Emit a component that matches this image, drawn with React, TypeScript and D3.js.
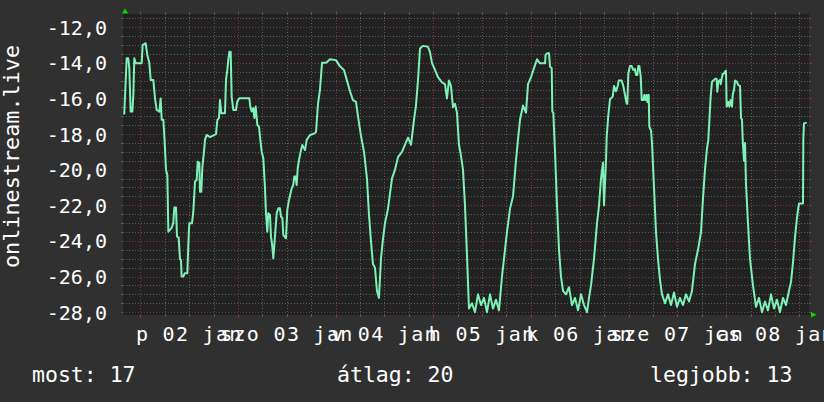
import React from "react";
import * as d3 from "d3";

// hours after 2015-01-01 20:00 (UTC) and the plotted value
const hours = [
  0.0, 0.6, 1.0, 1.25, 1.58, 2.0, 2.24, 2.48, 2.82, 4.29, 4.53, 5.27, 5.68, 6.17, 6.5, 7.16, 7.57, 7.98, 8.63, 8.96,
  9.21, 9.62, 9.94, 10.27, 10.6, 10.85, 11.67, 12.07, 12.32, 12.73, 12.98, 13.39, 13.71, 13.96, 14.12, 14.53, 14.86,
  15.52, 15.76, 16.0, 16.67, 16.99, 17.4, 17.82, 18.07, 18.47, 18.63, 18.96, 19.2, 19.62, 19.86, 20.27, 21.09, 22.57,
  22.9, 23.3, 23.55, 23.87, 24.78, 25.03, 25.35, 25.6, 25.84, 26.18, 26.42, 26.82, 27.48, 27.8, 28.3, 30.76, 31.0,
  31.34, 31.75, 32.0, 32.33, 32.73, 33.15, 33.38, 33.8, 34.2, 34.6, 34.86, 35.18, 35.43, 35.84, 36.09, 36.42, 36.66,
  37.0, 37.49, 37.9, 38.3, 38.55, 38.88, 39.12, 39.78, 40.1, 40.52, 41.18, 41.57, 41.82, 42.16, 42.4, 42.66, 42.98,
  43.39, 43.79, 44.45, 44.87, 45.68,
  46.42, 47.16, 47.65, 48.14, 48.64, 49.62, 50.6, 52.07, 53.05, 54.04, 54.78, 55.51, 56.25, 56.99, 57.48, 58.22,
  58.96, 59.69, 60.18, 60.67, 61.16, 61.66, 62.15, 62.64, 63.14, 63.63, 64.12, 64.86, 65.84, 66.58, 67.32, 68.3,
  69.04, 69.78, 70.52, 71.25, 71.74, 72.23, 72.73, 73.46, 74.69, 75.18, 75.67, 76.41, 77.15, 78.13, 78.87, 79.36,
  79.85, 80.34, 80.84, 81.33, 81.82, 82.31, 82.8, 83.3, 83.79, 84.28, 84.77, 85.51, 86.25, 86.99, 87.72, 88.46,
  89.2, 89.94, 90.68, 91.41, 92.15, 92.89, 93.63, 94.12, 94.86, 95.6, 96.33, 96.83, 97.32, 98.06, 98.8, 99.29,
  100.03, 100.76, 101.5, 102.24,
  103.48, 103.6, 103.97, 104.46, 104.7, 105.12, 105.27, 105.51, 105.93, 106.42, 106.91, 107.4, 107.9, 108.63,
  109.37, 110.11, 110.85, 111.59, 112.32, 113.06, 113.8, 114.29, 114.78, 115.52, 116.26, 116.75, 117.24, 117.73,
  117.98, 118.47, 118.64, 119.04, 119.45, 120.12, 120.44, 120.93, 121.35, 121.59, 122.32, 122.72, 123.13, 123.56,
  123.7, 123.96, 124.37, 124.78, 125.17, 125.59, 125.84, 126.17, 126.41, 126.66, 127.0, 127.25, 127.64, 127.89,
  128.13, 128.48, 128.62, 128.97, 129.12, 129.54, 129.78,
  130.27, 130.76, 131.25, 131.75, 132.24, 132.98, 133.71, 134.45, 135.19, 135.93, 136.66, 137.4, 138.14, 138.88,
  139.61, 140.35, 141.09, 141.83, 142.32, 142.81, 143.3,
  143.62, 144.2, 144.53, 144.85, 145.27, 145.68, 145.83, 146.08, 146.5, 146.67, 146.91, 147.16, 147.48, 147.73,
  147.97, 148.14, 148.54, 148.79, 149.13, 149.45, 149.63, 149.95, 150.2, 150.61, 151.0, 151.42, 151.67, 151.91,
  152.08, 152.4, 152.65, 152.89, 153.38, 153.87, 154.61, 155.35, 156.09, 156.83, 157.56, 158.3, 159.04, 159.78,
  160.51, 161.25, 161.99, 162.73, 163.47, 163.96, 164.45, 164.94, 165.43, 165.92, 166.91, 166.98, 167.15, 167.82,
];

const values = [
  -16.9, -13.75, -13.75, -14.3, -16.74, -16.74, -15.8, -13.75, -14.03, -14.03, -13.0, -12.9, -13.56, -14.0, -14.96,
  -14.96, -16.0, -16.65, -16.74, -16.0, -17.2, -17.2, -18.43, -20.0, -20.3, -23.48, -23.27, -22.99, -22.13, -22.13,
  -23.76, -23.8, -25.03, -25.07, -26.0, -26.0, -25.82, -25.82, -24.23, -23.01, -23.01, -22.36, -20.67, -20.58,
  -19.55, -19.62, -21.24, -21.24, -19.9, -18.99, -18.33, -18.05, -18.17, -18.0, -17.21, -17.1, -16.09, -16.83,
  -16.83, -14.96, -14.4, -13.84, -13.38, -13.38, -15.9, -16.65, -16.65, -16.18, -15.99, -15.99, -16.46, -16.74,
  -16.54, -17.1, -16.46, -17.49, -17.59, -18.15, -18.99, -19.36, -20.96, -22.45, -23.48, -22.45, -22.54, -23.76,
  -24.32, -24.98, -23.95, -22.45, -22.17, -22.17, -22.64, -22.71, -23.67, -23.85, -22.26, -21.7, -21.05, -20.86,
  -20.39, -20.39, -20.86, -19.92, -19.46, -18.99, -18.61, -18.9, -18.33, -18.05,
  -18.0, -17.9, -16.3, -15.5, -14.0, -14.0, -13.8, -13.85, -14.2, -14.4, -15.0, -15.6, -16.1, -16.2, -17.0, -18.1,
  -19.0, -20.5, -22.5, -24.0, -25.3, -25.5, -26.8, -27.2, -25.0, -23.9, -23.0, -22.2, -20.5, -20.0, -19.3, -19.0,
  -18.6, -18.2, -18.6, -17.2, -16.4, -15.0, -13.2, -13.05, -13.1, -13.4, -14.0, -14.4, -14.8, -15.1, -15.2, -16.0,
  -15.0, -15.3, -16.5, -16.3, -16.8, -18.6, -19.2, -20.0, -22.0, -24.8, -27.8, -27.5, -28.0, -27.0, -27.6, -27.2,
  -28.0, -27.0, -27.8, -27.3, -27.9, -26.0, -24.5, -23.5, -22.2, -21.5, -19.5, -18.3, -17.2, -16.4, -16.8, -15.2,
  -14.8, -14.3, -13.8, -14.03,
  -14.03, -13.56, -13.47, -13.47, -14.22, -14.3, -16.74, -16.8, -19.0, -22.0, -24.5, -26.0, -26.8, -27.0,
  -26.6, -27.6, -27.2, -27.9, -27.0, -27.6, -28.0, -27.2, -26.5, -25.0, -23.0, -22.0, -20.5, -19.6,
  -22.0, -19.5, -18.15, -16.93, -16.05, -15.9, -15.3, -15.6, -15.3, -15.0, -15.0, -15.3, -15.8, -16.3,
  -16.3, -14.59, -14.18, -14.18, -14.4, -14.35, -14.68, -14.68, -14.18, -14.18, -14.75, -16.09, -16.09, -15.8,
  -16.09, -15.8, -16.2, -15.8, -17.59, -17.8, -18.5,
  -21.0, -23.5, -25.0, -26.2, -27.0, -27.5, -27.0, -27.6, -26.9, -27.7, -27.2, -27.6, -27.0, -27.4,
  -26.8, -25.3, -24.5, -23.5, -21.6, -20.0, -18.8,
  -18.33, -15.9, -15.06, -15.0, -14.9, -14.9, -15.62, -15.06, -14.96, -15.2, -14.9, -14.63, -14.6, -14.5,
  -14.44, -16.46, -16.2, -16.46, -16.09, -16.46, -15.8, -15.5, -15.0, -15.06, -15.25, -15.3, -17.1, -17.2,
  -18.33, -19.5, -18.5, -20.8, -23.0, -25.0, -26.5, -27.7, -27.2, -28.0, -27.4, -27.9, -27.0, -27.8,
  -27.3, -28.0, -27.2, -27.6, -26.8, -26.3, -25.2, -23.8, -22.7, -21.9, -21.9, -18.33, -17.4, -17.36,
];

const yTicks = [-28, -26, -24, -22, -20, -18, -16, -14, -12];
const dayLabels = ["p 02 jan", "szo 03 jan", "v 04 jan", "h 05 jan", "k 06 jan", "sze 07 jan", "cs 08 jan"];
const legendItems = ["most: 17", "átlag: 20", "legjobb: 13"];
const unitLabel = "onlinestream.live";

const W = 824;
const H = 402;
const PL = 123;
const PR = 809;
const PT = 14;
const PB = 315;
const FONT = "'DejaVu Sans Mono', monospace";
const MINOR = "#5c5c5c";
const MAJOR = "#803838";

export default function App() {
  const dataStart = Date.UTC(2015, 0, 1, 20, 0);
  const x = d3
    .scaleUtc()
    .domain([new Date(Date.UTC(2015, 0, 1, 19, 42)), new Date(Date.UTC(2015, 0, 8, 20, 23))])
    .range([PL, PR]);
  const y = d3.scaleLinear().domain([-28.16, -11.26]).range([PB, PT]);

  const pts = hours.map((h, i) => [new Date(dataStart + h * 3600e3), values[i]] as [Date, number]);
  const line = d3
    .line<[Date, number]>()
    .x((d) => x(d[0]))
    .y((d) => y(d[1]));

  const [d0, d1] = x.domain();
  const sixHours = d3.utcHour.every(6)!.range(d0, d1);
  const minorV = sixHours.filter((d) => d.getUTCHours() !== 0);
  const majorV = d3.utcDay.range(d0, d1);
  const noons = majorV.map((d) => new Date(d.getTime() + 12 * 3600e3));

  const minorH = d3.range(-28, -11.4, 0.5).filter((v) => Math.abs(v % 2) > 0.01);

  const cx = (v: number) => Math.round(v) + 0.5;

  return (
    <svg
      width={W}
      height={H}
      style={{ position: "absolute", left: 0, top: 0, display: "block" }}
      xmlns="http://www.w3.org/2000/svg"
    >
      <rect x={0} y={0} width={W} height={H} fill="#303030" />
      <rect x={PL} y={PT} width={PR - PL} height={PB - PT} fill="#212121" />

      {minorH.map((v) => (
        <g key={"mh" + v}>
          <line x1={PL} x2={PR} y1={cx(y(v))} y2={cx(y(v))} stroke={MINOR} strokeDasharray="1,2" />
          <line x1={PL - 2} x2={PL} y1={cx(y(v))} y2={cx(y(v))} stroke={MINOR} />
          <line x1={PR} x2={PR + 2} y1={cx(y(v))} y2={cx(y(v))} stroke={MINOR} />
        </g>
      ))}
      {minorV.map((d) => (
        <g key={"mv" + d.getTime()}>
          <line x1={cx(x(d))} x2={cx(x(d))} y1={PT} y2={PB} stroke={MINOR} strokeDasharray="1,2" />
          <line x1={cx(x(d))} x2={cx(x(d))} y1={PT - 2} y2={PT} stroke={MINOR} />
          <line x1={cx(x(d))} x2={cx(x(d))} y1={PB} y2={PB + 2} stroke={MINOR} />
        </g>
      ))}
      {yTicks.map((v) => (
        <g key={"Mh" + v}>
          <line x1={PL} x2={PR} y1={cx(y(v))} y2={cx(y(v))} stroke={MAJOR} strokeDasharray="1,2" />
          <line x1={PL - 2} x2={PL} y1={cx(y(v))} y2={cx(y(v))} stroke={MAJOR} />
          <line x1={PR} x2={PR + 3} y1={cx(y(v))} y2={cx(y(v))} stroke={MAJOR} />
        </g>
      ))}
      {majorV.map((d) => (
        <g key={"Mv" + d.getTime()}>
          <line x1={cx(x(d))} x2={cx(x(d))} y1={PT} y2={PB} stroke={MAJOR} strokeDasharray="1,2" />
          <line x1={cx(x(d))} x2={cx(x(d))} y1={PT - 3} y2={PT} stroke={MAJOR} />
          <line x1={cx(x(d))} x2={cx(x(d))} y1={PB} y2={PB + 3} stroke={MAJOR} />
        </g>
      ))}

      <path d={line(pts) || ""} fill="none" stroke="#7ef2b6" strokeWidth={2} strokeLinejoin="round" />

      <path d="M122,13.5 L128,13.5 L125,8.5 Z" fill="#00dd00" />
      <path d="M811,312 L811,317.5 L816.5,314.75 Z" fill="#00dd00" />

      {yTicks.map((v) => (
        <text
          key={"yl" + v}
          x={107}
          y={y(v) + 7.5}
          textAnchor="end"
          fill="#ffffff"
          fontFamily={FONT}
          fontSize={20}
        >
          {v.toFixed(1).replace(".", ",")}
        </text>
      ))}

      {noons.map((d, i) =>
        dayLabels[i] ? (
          <text
            key={"xl" + i}
            x={x(d)}
            y={341}
            textAnchor="middle"
            fill="#ffffff"
            fontFamily={FONT}
            fontSize={20}
            letterSpacing={1.3}
          >
            {dayLabels[i]}
          </text>
        ) : null
      )}

      <text
        transform={`translate(18.5,156.5) rotate(-90)`}
        textAnchor="middle"
        fill="#ffffff"
        fontFamily={FONT}
        fontSize={21.8}
      >
        {unitLabel}
      </text>

      <text x={32} y={382} fill="#ffffff" fontFamily={FONT} fontSize={21.5}>
        {legendItems[0]}
      </text>
      <text x={337} y={382} fill="#ffffff" fontFamily={FONT} fontSize={21.5}>
        {legendItems[1]}
      </text>
      <text x={650} y={382} fill="#ffffff" fontFamily={FONT} fontSize={21.5}>
        {legendItems[2]}
      </text>
    </svg>
  );
}
